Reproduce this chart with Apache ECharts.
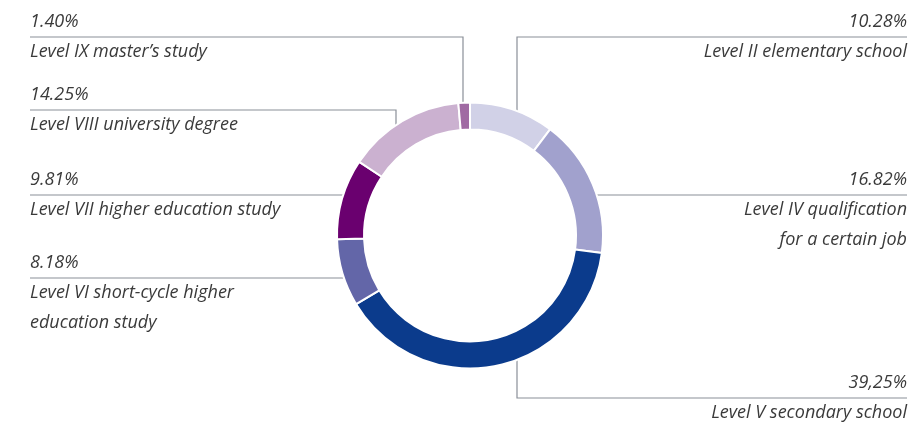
<!DOCTYPE html>
<html>
<head>
<meta charset="utf-8">
<script src="https://cdn.jsdelivr.net/npm/echarts@6/dist/echarts.min.js"></script>
</head>
<body style="margin:0">
<div id="container" style="width:909px;height:423px"></div>
<script>
// data, clockwise from 12 o'clock
var categories = [
    'Level II elementary school',
    'Level IV qualification\nfor a certain job',
    'Level V secondary school',
    'Level VI short-cycle higher\neducation study',
    'Level VII higher education study',
    'Level VIII university degree',
    'Level IX master\u2019s study'
];
var shares = [10.28, 16.82, 39.25, 8.18, 9.81, 14.25, 1.40];
var shareLabels = ['10.28%', '16.82%', '39,25%', '8.18%', '9.81%', '14.25%', '1.40%'];

var colors = ['#d1d1e7', '#a1a1cd', '#0b3b8c', '#6366a8', '#6a006f', '#cbb1d0', '#a06aa3'];

// where each callout goes (drop = vertical leg offset from centre, else straight horizontal)
var callouts = [
    {side: 'right', drop: 47, lineY: 37},
    {side: 'right', lineY: 195},
    {side: 'right', drop: 47, lineY: 398},
    {side: 'left', lineY: 278},
    {side: 'left', lineY: 195},
    {side: 'left', drop: -74, lineY: 110},
    {side: 'left', drop: -7, lineY: 37}
];

var CX = 470, CY = 235.5, R_IN = 106, R_OUT = 133;
var LEFT_EDGE = 30, RIGHT_EDGE = 907;

var dom = document.getElementById('container');
var myChart = echarts.init(dom);

function richFor(side) {
    var base = {fontFamily: 'Open Sans', fontStyle: 'italic', fontSize: 18, color: '#3a3a3a', align: side === 'right' ? 'right' : 'left'};
    return {
        p: Object.assign({lineHeight: 26}, base),
        n: Object.assign({lineHeight: 34}, base),
        m: Object.assign({lineHeight: 25}, base)
    };
}

var seriesData = shares.map(function (v, i) {
    return {
        name: categories[i],
        value: v,
        itemStyle: {color: colors[i]},
        label: {rich: richFor(callouts[i].side)}
    };
});

var option = {
    animation: false,
    series: [{
        type: 'pie',
        center: [CX, CY],
        radius: [R_IN, R_OUT],
        startAngle: 90,
        clockwise: true,
        avoidLabelOverlap: false,
        itemStyle: {borderColor: '#fff', borderWidth: 2},
        label: {
            show: true,
            position: 'outside',
            bleedMargin: 0,
            formatter: function (p) {
                var i = p.dataIndex;
                var parts = categories[i].split('\n');
                var s = '{p|' + shareLabels[i] + '}\n{n|' + parts[0] + '}';
                if (parts[1]) s += '\n{m|' + parts[1] + '}';
                return s;
            }
        },
        labelLine: {
            show: true,
            length: 4,
            length2: 4,
            lineStyle: {color: '#8a8f98', width: 1.2}
        },
        labelLayout: function (params) {
            var c = callouts[params.dataIndex];
            var edgeX = c.side === 'left' ? LEFT_EDGE : RIGHT_EDGE;
            var pts;
            if (c.drop != null) {
                var dy = Math.sqrt(R_OUT * R_OUT - c.drop * c.drop);
                var sy = c.lineY < CY ? CY - dy : CY + dy;
                pts = [[CX + c.drop, sy], [CX + c.drop, c.lineY], [edgeX, c.lineY]];
            } else {
                var dx = Math.sqrt(R_OUT * R_OUT - (c.lineY - CY) * (c.lineY - CY));
                var sx = c.side === 'left' ? CX - dx : CX + dx;
                pts = [[sx, c.lineY], [(sx + edgeX) / 2, c.lineY], [edgeX, c.lineY]];
            }
            return {
                x: edgeX,
                y: c.lineY - 28,
                align: c.side,
                verticalAlign: 'top',
                labelLinePoints: pts
            };
        },
        data: seriesData
    }]
};

myChart.setOption(option);
</script>
</body>
</html>
